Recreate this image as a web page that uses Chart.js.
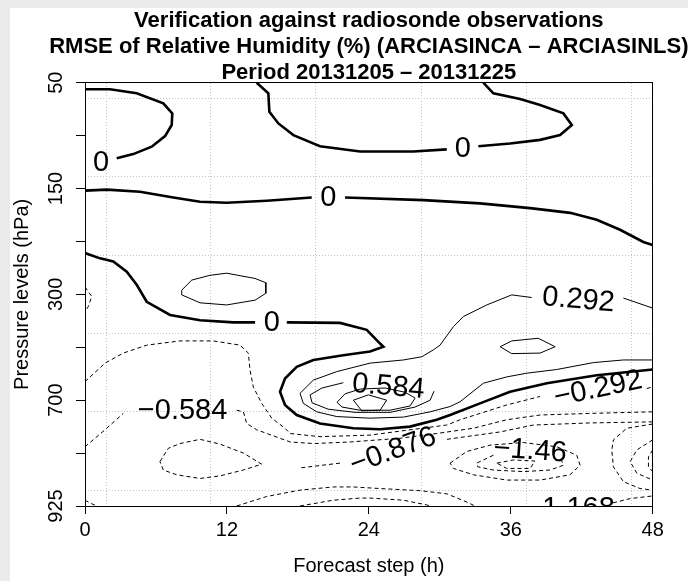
<!DOCTYPE html>
<html>
<head>
<meta charset="utf-8">
<script src="https://cdn.jsdelivr.net/npm/chart.js@4.4.0/dist/chart.umd.min.js"></script>
<style>
  html, body { margin: 0; padding: 0; background: #ebebeb; }
  #panel { position: absolute; left: 10px; top: 8px; width: 678px; height: 573px; background: #fff; }
</style>
</head>
<body>
<div id="panel"><canvas id="chart"></canvas></div>
<script>
// --- axes ---
const xTicks = [0, 12, 24, 36, 48];
const yTickPos = [0, 1, 2, 3, 4, 5, 6, 7, 8];
const yTickLabels = ['50', '', '150', '', '300', '', '700', '', '925'];
const gridX = [1.78, 10.65, 19.53, 28.47, 37.35, 46.23];
const gridY = [0.295, 1.777, 3.257, 4.738, 6.219, 7.713];

const titleLines = [
  'Verification against radiosonde observations',
  'RMSE of Relative Humidity (%) (ARCIASINCA \u2013 ARCIASINLS)',
  'Period 20131205 \u2013 20131225'
];

// --- contour lines: [forecast step (h), level index], null = break for a label ---
const zeroTopLeft = [[0,0.125],[2.11,0.125],[4.37,0.20],[6.62,0.39],[7.38,0.58],[7.33,0.80],[6.77,1.01],[5.64,1.21],[4.08,1.35],[2.68,1.43]];
const zeroTopRight = [[14.52,0],[15.50,0.20],[15.59,0.55],[16.35,0.77],[17.62,0.99],[19.87,1.20],[23.26,1.30],[27.76,1.30],[30.59,1.26],null,[33.26,1.20],[35.94,1.15],[38.48,1.08],[40.17,0.99],[41.16,0.80],[40.45,0.58],[38.48,0.42],[36.79,0.31],[34.53,0.20],[33.68,0]];
const zero150 = [[0,2.04],[1.84,2.02],[4.65,2.06],[7.47,2.17],[9.73,2.25],[11.98,2.27],[15.37,2.23],[19.17,2.17],null,[21.99,2.17],[28.61,2.22],[33.40,2.28],[37.63,2.37],[41.02,2.46],[43.27,2.59],[45.24,2.78],[47.21,3.01],[48,3.07]];
const zeroMain = [[0,3.22],[1.27,3.32],[2.39,3.38],[3.53,3.57],[4.37,3.82],[5.22,4.14],[7.19,4.39],[9.73,4.49],[12.54,4.53],[14.38,4.53],null,[17.06,4.53],[21.56,4.54],[23.82,4.67],[24.95,4.93],[25.23,4.99],[24.10,5.08],[21.84,5.15],[19.31,5.24],[17.90,5.37],[16.91,5.59],[16.49,5.84],[16.91,6.09],[17.90,6.28],[19.87,6.44],[22.69,6.53],[24.95,6.55],[27.48,6.50],[29.74,6.37],[30.87,6.28],[33.40,6.06],[35.94,5.84],[39.05,5.68],[43.27,5.53],[48,5.42]];

const pos292 = [[48,4.26],[45.52,4.07],null,[37.77,4.06],[36.08,4.01],[33.97,4.20],[31.99,4.42],[31.15,4.61],[30.02,4.96],[29.45,5.05],[28.47,5.18],[26.92,5.24],[24.10,5.30],[21.29,5.46],[19.31,5.62],[18.18,5.87],[18.46,6.06],[19.59,6.22],[21.29,6.31],[24.10,6.34],[26.92,6.32],[29.18,6.22],[30.87,6.12],[31.71,6.03],[33.68,5.68],[35.66,5.56],[37.35,5.49],[39.89,5.42],[42.99,5.29],[45.52,5.24],[48,5.24]];
const pos292Left = [[8.18,3.92],[9.03,3.73],[10.57,3.64],[11.98,3.60],[14.38,3.70],[15.29,3.78],[15.29,3.98],[14.38,4.11],[11.98,4.20],[9.73,4.16],[8.18,4.01],[8.18,3.92]];
const pos292Right = [[35.10,4.99],[36.08,4.88],[38.33,4.83],[39.75,4.99],[38.48,5.11],[36.08,5.12],[35.10,4.99]];
const pos584 = [[21.84,5.67],[20.04,5.77],[19.03,5.90],[19.20,6.05],[20.55,6.17],[22.83,6.23],[25.79,6.23],[27.91,6.13],[29.18,6.00],[29.51,5.83]];
const pos876 = [[21.31,6.04],[21.99,5.88],[23.26,5.79],[25.37,5.77],[27.06,5.85],[27.91,5.96],[27.48,6.11],[25.79,6.19],[23.26,6.19],[21.73,6.13],[21.31,6.04]];
const pos1168 = [[22.69,6.0],[23.96,5.90],[25.51,6.0],[24.95,6.19],[23.40,6.20],[22.69,6.0]];

const negLeftEdge = [[0,3.86],[0.57,4.04],[0.28,4.23],[0,4.33]];
const neg292 = [[0,5.65],[1.69,5.30],[3.24,5.11],[5.22,4.96],[8.03,4.88],[10.85,4.88],[13.11,4.96],[13.81,5.11],[13.95,5.43],[14.23,5.75],[14.94,6.06],[15.79,6.34],[16.91,6.53],[17.34,6.63],[19.87,6.69],[24.10,6.66],[27.48,6.56],[30.59,6.47],[31.71,6.37],[35.66,6.09],[38.48,5.93],null,[47.50,5.78],[48,5.75]];
const neg584 = [[0,6.88],[1.69,6.56],[3.24,6.25],null,[12.83,6.19],[13.39,6.22],[13.67,6.44],[14.52,6.56],[16.49,6.72],[17.34,6.79],[19.31,6.82],[22.41,6.79],[26.64,6.72],[29.74,6.63],[32.84,6.53],[35.66,6.37],[38.48,6.28],[42.71,6.25],[48,6.22]];
const neg876Left = [[6.34,7.16],[7.04,6.91],[8.03,6.82],[9.73,6.74],[11.42,6.83],[13.39,7.00],[14.94,7.21],[13.39,7.32],[11.42,7.43],[9.73,7.48],[7.75,7.41],[6.62,7.32],[6.34,7.16]];
const neg876 = [[48,6.41],[42.71,6.43],[37.91,6.47],[35.10,6.60],[30.59,6.74],null,[21.56,7.19],[18.18,7.28]];
const neg1168 = [[30.87,7.19],[32.28,6.97],[34.25,6.85],[37.07,6.80],[39.89,6.88],[41.58,7.04],[41.86,7.23],[41.01,7.41],[38.48,7.51],[35.66,7.51],[32.84,7.41],[31.15,7.29],[30.87,7.19]];
const neg146 = [[34.53,7.04],[33.12,7.19],[33.21,7.26],[34.53,7.32],[37.07,7.35],[39.32,7.32],[40.45,7.23],[40.17,7.06]];
const neg1752 = [[34.82,7.19],[36.22,7.13],[38.05,7.15],[37.63,7.29],[35.66,7.29],[34.82,7.19]];
const negRight1 = [[48,6.45],[45.81,6.53],[44.68,6.75],[44.54,6.94],[44.68,7.26],[45.52,7.54],[46.93,7.67],[48,7.70]];
const negRight2 = [[48,6.75],[46.66,6.94],[46.09,7.16],[46.66,7.38],[48,7.51]];
const negRight3 = [[48,6.94],[47.64,7.07],[47.64,7.26],[48,7.35]];
const negCorner = [[0,7.89],[0.5,7.95],[0.99,8.0]];
const negBottom1 = [[12.83,8.0],[15.37,7.82],[18.18,7.70],[21.0,7.64],[22.69,7.64],[24.95,7.67],[28.33,7.71],[30.59,7.77],[32.13,7.91],[32.98,8.0]];
const negBottom2 = [[18.18,8.0],[21.0,7.89],[23.26,7.85],[24.10,7.85],[26.92,7.89],[28.90,7.98],[29.18,8.0]];
const negBottomRight = [[44.65,7.94],[46.09,7.86],[48,7.81]];

// --- contour labels ---
const labelText = ['0', '0', '0', '0', '0.292', '0.584', '\u22120.584', '\u22120.292', '\u22120.876', '\u22121.46', '\u22121.168'];
const labelX = [1.35, 31.94, 20.58, 15.79, 41.72, 25.65, 8.25, 43.38, 26.05, 37.63, 41.01];
const labelY = [1.52, 1.26, 2.18, 4.55, 4.11, 5.75, 6.20, 5.79, 6.96, 6.96, 8.06];
const labelAngle = [0, 0, 0, 0, 5, 5, 0, -12, -20, 4, 0];

const styles = {
    thick: { borderWidth: 2.6, borderDash: [] },
    thin: { borderWidth: 1, borderDash: [] },
    dash: { borderWidth: 1, borderDash: [4, 3] }
};

const contours = [
    [zeroTopLeft, 'thick'], [zeroTopRight, 'thick'], [zero150, 'thick'], [zeroMain, 'thick'],
    [pos292, 'thin'], [pos292Left, 'thin'], [pos292Right, 'thin'], [pos584, 'thin'], [pos876, 'thin'], [pos1168, 'thin'],
    [negLeftEdge, 'dash'], [neg292, 'dash'], [neg584, 'dash'], [neg876Left, 'dash'], [neg876, 'dash'],
    [neg1168, 'dash'], [neg146, 'dash'], [neg1752, 'dash'], [negRight1, 'dash'], [negRight2, 'dash'], [negRight3, 'dash'],
    [negCorner, 'dash'], [negBottom1, 'dash'], [negBottom2, 'dash'], [negBottomRight, 'dash']
];

const datasets = [];
contours.forEach(([pts, kind]) => {
    let cur = [];
    const flush = () => {
        if (cur.length) {
            datasets.push(Object.assign({
                data: cur, showLine: true, borderColor: '#000', pointRadius: 0,
                tension: 0, fill: false
            }, styles[kind]));
        }
        cur = [];
    };
    pts.forEach(p => { if (p === null) flush(); else cur.push({ x: p[0], y: p[1] }); });
    flush();
});

const FONT = '"Liberation Sans", Arial, Helvetica, sans-serif';
Chart.defaults.font.family = FONT;
Chart.defaults.color = '#000';

const decorPlugin = {
    id: 'decor',
    afterDatasetsDraw(chart) {
        const { ctx, chartArea: a, scales: { x, y } } = chart;
        // contour labels, clipped to the plot like R does
        ctx.save();
        ctx.beginPath();
        ctx.rect(a.left, a.top, a.right - a.left, a.bottom - a.top);
        ctx.clip();
        ctx.font = '29px ' + FONT;
        ctx.fillStyle = '#000';
        ctx.textAlign = 'center';
        ctx.textBaseline = 'middle';
        labelText.forEach((t, i) => {
            ctx.save();
            ctx.translate(x.getPixelForValue(labelX[i]), y.getPixelForValue(labelY[i]));
            ctx.rotate(labelAngle[i] * Math.PI / 180);
            ctx.fillText(t, 0, 0);
            ctx.restore();
        });
        ctx.restore();
    },
    afterDraw(chart) {
        const { ctx, chartArea: a, scales: { y } } = chart;
        ctx.save();
        ctx.fillStyle = '#000';
        ctx.textAlign = 'center';
        ctx.textBaseline = 'middle';
        // title
        ctx.font = 'bold 22px ' + FONT;
        const cx = (a.left + a.right) / 2;
        titleLines.forEach((t, i) => ctx.fillText(t, cx, 13 + i * 26));
        // y tick labels, rotated like R
        ctx.font = '20px ' + FONT;
        yTickPos.forEach((v, i) => {
            if (!yTickLabels[i]) return;
            ctx.save();
            ctx.translate(a.left - 29, y.getPixelForValue(v));
            ctx.rotate(-Math.PI / 2);
            ctx.fillText(yTickLabels[i], 0, 0);
            ctx.restore();
        });
        ctx.restore();
    }
};

new Chart(document.getElementById('chart'), {
    type: 'scatter',
    data: { datasets },
    plugins: [decorPlugin],
    options: {
        responsive: true,
        maintainAspectRatio: false,
        animation: false,
        devicePixelRatio: 1,
        events: [],
        layout: { padding: { top: 74.7, right: 35.3, left: 0, bottom: 0 } },
        plugins: { legend: { display: false }, tooltip: { enabled: false } },
        scales: {
            x: {
                type: 'linear', position: 'bottom', min: 0, max: 48,
                afterBuildTicks: s => { s.ticks = xTicks.map(v => ({ value: v })); },
                afterFit: s => { s.height = 75; },
                ticks: { font: { size: 20 }, padding: 4, maxRotation: 0 },
                grid: { drawOnChartArea: false, drawTicks: true, tickLength: 8, tickColor: '#000' },
                border: { display: true, color: '#000', width: 1 },
                title: { display: true, text: 'Forecast step (h)', font: { size: 20 }, padding: { top: 0, bottom: 3 } }
            },
            y: {
                type: 'linear', position: 'left', reverse: true, min: 0, max: 8,
                afterBuildTicks: s => { s.ticks = yTickPos.map(v => ({ value: v })); },
                afterFit: s => { s.width = 75; },
                ticks: { display: false },
                grid: { drawOnChartArea: false, drawTicks: true, tickLength: 9, tickColor: '#000' },
                border: { display: true, color: '#000', width: 1 },
                title: { display: true, text: 'Pressure levels (hPa)', font: { size: 20 }, padding: 0 }
            },
            x2: {
                type: 'linear', position: 'top', min: 0, max: 48,
                afterBuildTicks: s => { s.ticks = gridX.map(v => ({ value: v })); },
                afterFit: s => { s.height = 0; },
                ticks: { display: false },
                grid: { color: '#c4c4c4', lineWidth: 1, drawTicks: false },
                border: { display: true, color: '#000', width: 1, dash: [1, 2] }
            },
            y2: {
                type: 'linear', position: 'right', reverse: true, min: 0, max: 8,
                afterBuildTicks: s => { s.ticks = gridY.map(v => ({ value: v })); },
                afterFit: s => { s.width = 0; },
                ticks: { display: false },
                grid: { color: '#c4c4c4', lineWidth: 1, drawTicks: false },
                border: { display: true, color: '#000', width: 1, dash: [1, 2] }
            }
        }
    }
});
</script>
</body>
</html>
